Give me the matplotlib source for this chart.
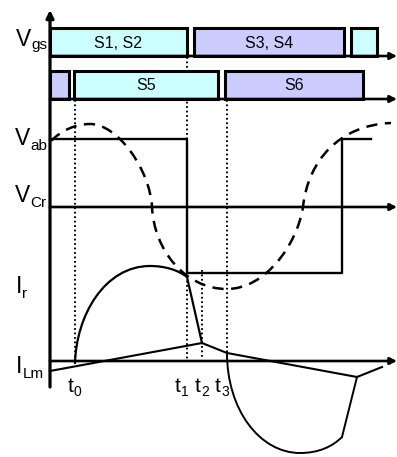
import matplotlib.pyplot as plt
from matplotlib.patches import Rectangle, PathPatch
from matplotlib.path import Path

plt.rcParams['font.family'] = ['Liberation Sans', 'DejaVu Sans']

# switching instants t0..t3 (horizontal position on the time axis)
t_marks = [75, 187, 202, 227]
t_names = ['0', '1', '2', '3']
t_label_x = [68, 175, 195, 215]
t_dot_top = [100, 57, 270, 100]
t_dot_bottom = [362, 362, 358, 355]

# gate drive pulses: (start, end, fill, text)
gate_row1 = [(50, 187, '#ccffff', 'S1, S2'), (194, 344, '#ccccff', 'S3, S4'),
             (351, 377, '#ccffff', '')]
gate_row2 = [(50, 69, '#ccccff', ''), (74, 218, '#ccffff', 'S5'),
             (225, 363, '#ccccff', 'S6')]
row1_top, row1_base = 28, 56
row2_top, row2_base = 71, 99

# bridge voltage Vab
vab_t = [50, 187, 187, 342, 342, 371]
vab_v = [139, 139, 273, 273, 139, 139]

# resonant capacitor voltage VCr (cubic bezier vertices)
vcr_pts = [(51, 141), (62, 130), (76, 124), (90, 124),
           (118, 124), (150, 170), (152, 207),
           (154, 250), (185, 289), (227, 289),
           (265, 289), (297, 245), (303, 207),
           (308, 160), (340, 125), (391, 123)]

# magnetizing current ILm
ilm_t = [50, 202, 227, 357, 382]
ilm_v = [371, 343, 353, 377, 367]

# resonant current Ir: positive half wave, commutation, negative half wave
ir_pos = [(75, 364), (76, 315), (105, 266), (150, 266),
          (165, 266), (178, 270), (187, 277)]
ir_fall_t = [187, 202]
ir_fall_v = [277, 343]
ir_neg = [(227, 353), (227, 410), (260, 453), (300, 453),
          (318, 453), (332, 447), (342, 437)]
ir_rise_t = [342, 357]
ir_rise_v = [437, 377]

vcr_axis_y = 207
il_axis_y = 361

# signal names: (letter, subscript, x, letter baseline, sub x, sub baseline)
signal_names = [('V', 'gs', 16, 46, 31, 49),
                ('V', 'ab', 15, 145, 30, 150),
                ('V', 'Cr', 15, 202, 30, 207),
                ('I', 'r', 16, 293, 22, 298),
                ('I', 'Lm', 16, 373, 23, 378)]


def bezier(pts):
    codes = [Path.MOVETO] + [Path.CURVE4] * (len(pts) - 1)
    return Path(pts, codes)


def arrow_axis(ax, y, x0=50, x1=397):
    ax.annotate('', xy=(x1, y), xytext=(x0, y),
                arrowprops=dict(arrowstyle='-|>', lw=1.9, color='k',
                                mutation_scale=10, shrinkA=0, shrinkB=0))


fig = plt.figure(figsize=(3.97, 4.57), dpi=100)
ax = fig.add_axes([0, 0, 1, 1])
ax.set_xlim(0, 397)
ax.set_ylim(457, 0)
ax.axis('off')

# gate pulses
for row, top, base in [(gate_row1, row1_top, row1_base),
                       (gate_row2, row2_top, row2_base)]:
    for x0, x1, fc, name in row:
        ax.add_patch(Rectangle((x0, top), x1 - x0, base - top, facecolor=fc,
                               edgecolor='k', lw=2.2, zorder=2))
        if name:
            ax.text((x0 + x1) / 2, (top + base) / 2 + 1, name, fontsize=11.5,
                    ha='center', va='center', zorder=3)
    arrow_axis(ax, base)

# dotted markers at switching instants
for x, y0, y1 in zip(t_marks, t_dot_top, t_dot_bottom):
    ax.plot([x, x], [y0, y1], color='k', lw=1.4, ls=(0, (0.9, 1.4)), zorder=1)

# horizontal axes
arrow_axis(ax, vcr_axis_y)
arrow_axis(ax, il_axis_y)

# vertical axis
ax.annotate('', xy=(50, 10), xytext=(50, 387),
            arrowprops=dict(arrowstyle='-|>', lw=2.3, color='k',
                            mutation_scale=11, shrinkA=0, shrinkB=0),
            zorder=5)

# waveforms
ax.plot(vab_t, vab_v, color='k', lw=1.7, zorder=4)
ax.add_patch(PathPatch(bezier(vcr_pts), fill=False, lw=1.8, edgecolor='k',
                       ls=(0, (4.5, 3)), zorder=4))
ax.plot(ilm_t, ilm_v, color='k', lw=1.5, zorder=4)
ax.add_patch(PathPatch(bezier(ir_pos), fill=False, lw=1.6, edgecolor='k',
                       zorder=4))
ax.plot(ir_fall_t, ir_fall_v, color='k', lw=1.6, zorder=4)
ax.add_patch(PathPatch(bezier(ir_neg), fill=False, lw=1.4, edgecolor='k',
                       zorder=4))
ax.plot(ir_rise_t, ir_rise_v, color='k', lw=1.4, zorder=4)

# signal names
for main, sub, x, y, sx, sy in signal_names:
    ax.text(x, y, main, fontsize=16.5, ha='left', va='baseline')
    ax.text(sx, sy, sub, fontsize=11, ha='left', va='baseline')

for x, n in zip(t_label_x, t_names):
    ax.text(x, 392, 't', fontsize=15, ha='left', va='baseline')
    ax.text(x + 6, 396, n, fontsize=10, ha='left', va='baseline')

fig.savefig('out.png', dpi=100)
